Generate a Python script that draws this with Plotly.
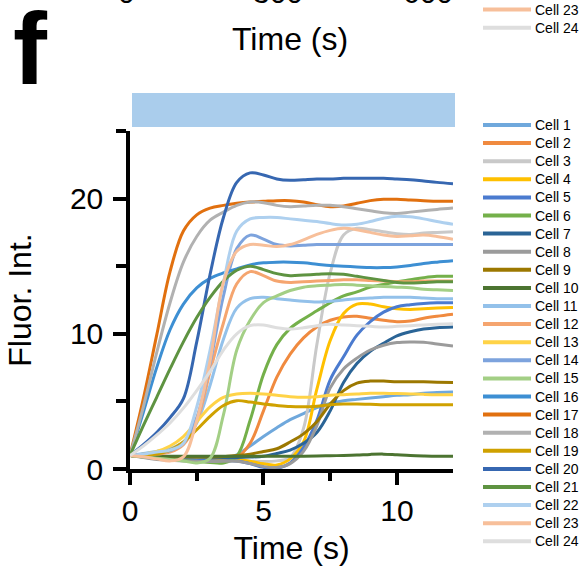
import plotly.graph_objects as go

# Sampling times (s), shared by every cell trace
TIME = [0, 0.5, 1, 1.5, 2, 2.5, 3, 3.5, 4, 4.5, 5, 5.5, 6, 6.5, 7, 7.5, 8,
        8.5, 9, 9.5, 10, 10.5, 11, 11.5, 12.1]

# Fluorescence intensity per cell
CELL_01 = [1.0, 0.95, 0.9, 0.85, 0.8, 0.78, 0.75, 0.8, 1.05, 1.7, 2.4, 3.05, 3.65, 4.1, 4.55, 4.85, 5.05, 5.15, 5.25, 5.35, 5.45, 5.5, 5.6, 5.65, 5.7]
CELL_02 = [1.0, 0.95, 0.9, 0.85, 0.8, 0.75, 0.7, 0.7, 0.85, 1.9, 4.3, 6.8, 8.5, 9.7, 10.5, 11.0, 11.25, 11.3, 11.15, 11.0, 10.9, 10.95, 11.15, 11.3, 11.45]
CELL_03 = [1.0, 0.9, 0.8, 0.7, 0.62, 0.58, 0.55, 0.57, 0.6, 0.58, 0.55, 0.6, 0.85, 3.0, 9.2, 14.5, 17.3, 17.8, 17.7, 17.55, 17.4, 17.35, 17.45, 17.5, 17.55]
CELL_04 = [1.0, 0.9, 0.85, 0.8, 0.75, 0.72, 0.7, 0.7, 0.7, 0.58, 0.38, 0.3, 0.75, 2.0, 5.9, 9.5, 11.5, 12.2, 12.2, 12.0, 11.85, 11.8, 11.85, 11.9, 11.95]
CELL_05 = [1.0, 0.9, 0.8, 0.75, 0.7, 0.65, 0.62, 0.6, 0.6, 0.4, 0.12, 0.05, 0.45, 1.6, 3.6, 6.6, 8.3, 9.9, 10.9, 11.6, 12.0, 12.15, 12.25, 12.3, 12.3]
CELL_06 = [1.0, 0.9, 0.85, 0.75, 0.65, 0.55, 0.48, 0.45, 0.95, 3.6, 7.0, 9.2, 10.4, 11.1, 11.7, 12.3, 12.8, 13.1, 13.45, 13.65, 13.85, 14.0, 14.15, 14.25, 14.25]
CELL_07 = [1.0, 0.95, 0.92, 0.9, 0.9, 0.88, 0.86, 0.85, 0.85, 0.88, 0.95, 1.15, 1.4, 1.9, 2.7, 4.3, 6.4, 7.8, 8.7, 9.3, 9.85, 10.15, 10.35, 10.45, 10.5]
CELL_08 = [1.0, 0.85, 0.7, 0.65, 0.6, 0.57, 0.55, 0.57, 0.58, 0.4, 0.18, 0.12, 0.4, 1.3, 3.2, 6.0, 7.4, 8.2, 8.8, 9.15, 9.35, 9.4, 9.38, 9.25, 9.1]
CELL_09 = [1.0, 0.95, 0.93, 0.9, 0.9, 0.9, 0.9, 0.92, 1.0, 1.1, 1.3, 1.5, 2.0, 2.6, 3.5, 4.8, 5.8, 6.35, 6.5, 6.5, 6.45, 6.45, 6.45, 6.42, 6.4]
CELL_10 = [1.0, 0.97, 0.95, 0.95, 0.95, 0.95, 0.95, 0.95, 0.95, 0.95, 0.95, 0.95, 0.95, 0.95, 0.96, 0.98, 1.0, 1.03, 1.08, 1.1, 1.05, 1.0, 0.97, 0.95, 0.95]
CELL_11 = [1.0, 1.15, 1.3, 1.5, 2.0, 3.4, 6.2, 9.6, 11.9, 12.6, 12.7, 12.6, 12.5, 12.4, 12.35, 12.4, 12.5, 12.6, 12.65, 12.7, 12.7, 12.7, 12.65, 12.6, 12.6]
CELL_12 = [1.0, 1.05, 1.1, 1.25, 1.8, 3.5, 7.2, 10.8, 13.7, 14.6, 14.3, 13.9, 13.8, 13.85, 13.9, 13.95, 14.0, 14.0, 13.95, 13.9, 13.85, 13.85, 13.9, 13.9, 13.9]
CELL_13 = [1.0, 1.1, 1.3, 1.7, 2.4, 3.5, 4.6, 5.3, 5.55, 5.6, 5.55, 5.45, 5.35, 5.3, 5.35, 5.45, 5.5, 5.55, 5.6, 5.6, 5.58, 5.55, 5.52, 5.5, 5.5]
CELL_14 = [1.0, 1.1, 1.2, 1.35, 1.9, 3.8, 7.8, 12.8, 16.3, 17.3, 17.0, 16.6, 16.5, 16.55, 16.6, 16.6, 16.6, 16.6, 16.6, 16.6, 16.6, 16.6, 16.6, 16.6, 16.6]
CELL_15 = [1.0, 0.9, 0.8, 0.7, 0.6, 0.45, 0.8, 4.0, 8.8, 11.0, 12.3, 12.8, 13.2, 13.45, 13.55, 13.6, 13.65, 13.6, 13.55, 13.5, 13.45, 13.4, 13.3, 13.25, 13.2]
CELL_16 = [1.0, 4.2, 7.5, 10.3, 12.2, 13.4, 14.1, 14.5, 14.8, 15.1, 15.25, 15.3, 15.3, 15.25, 15.15, 15.05, 15.0, 14.95, 14.9, 14.9, 14.95, 15.05, 15.2, 15.3, 15.4]
CELL_17 = [1.0, 5.2, 9.9, 14.6, 17.6, 18.8, 19.3, 19.5, 19.65, 19.75, 19.8, 19.85, 19.85, 19.75, 19.55, 19.4, 19.45, 19.65, 19.85, 19.95, 19.95, 19.9, 19.85, 19.8, 19.8]
CELL_18 = [1.0, 4.6, 8.6, 12.3, 15.3, 17.2, 18.4, 19.0, 19.5, 19.75, 19.7, 19.5, 19.4, 19.45, 19.5, 19.5, 19.4, 19.25, 19.1, 18.95, 18.9, 19.0, 19.1, 19.2, 19.3]
CELL_19 = [1.0, 1.02, 1.1, 1.4, 2.0, 2.9, 3.9, 4.7, 5.05, 4.95, 4.8, 4.7, 4.62, 4.6, 4.65, 4.75, 4.8, 4.8, 4.78, 4.75, 4.75, 4.75, 4.75, 4.75, 4.75]
CELL_20 = [1.0, 1.8, 2.7, 3.8, 5.2, 9.4, 14.4, 18.6, 21.2, 21.9, 21.75, 21.45, 21.35, 21.4, 21.45, 21.45, 21.5, 21.5, 21.5, 21.5, 21.45, 21.4, 21.3, 21.2, 21.1]
CELL_21 = [1.0, 3.2, 5.3, 7.4, 9.4, 11.2, 12.7, 13.9, 14.7, 15.0, 14.75, 14.45, 14.3, 14.35, 14.4, 14.45, 14.4, 14.25, 14.1, 13.95, 13.8, 13.75, 13.8, 13.85, 13.85]
CELL_22 = [1.0, 1.1, 1.25, 1.4, 1.9, 4.6, 8.8, 13.8, 17.6, 18.5, 18.6, 18.6, 18.5, 18.4, 18.3, 18.15, 18.05, 18.1, 18.3, 18.55, 18.7, 18.65, 18.5, 18.3, 18.1]
CELL_23 = [1.0, 0.9, 0.75, 0.6, 0.9, 3.6, 8.0, 13.8, 16.1, 16.6, 16.55, 16.45, 16.6, 16.95, 17.35, 17.65, 17.8, 17.7, 17.5, 17.3, 17.2, 17.25, 17.3, 17.2, 17.0]
CELL_24 = [1.0, 1.7, 2.5, 3.4, 4.5, 5.8, 7.2, 8.8, 10.0, 10.6, 10.65, 10.45, 10.35, 10.45, 10.6, 10.7, 10.65, 10.6, 10.55, 10.5, 10.55, 10.6, 10.65, 10.7, 10.75]

CELL_NAMES = ["Cell %d" % i for i in range(1, 25)]
CELL_COLORS = ["#6FA8DC", "#F08A3F", "#C9C9C9", "#FFC000", "#4B7BCF", "#74B04A",
               "#2A6496", "#9B9B9B", "#9C7800", "#4C7431", "#93C1EA", "#F5A56F",
               "#FFD347", "#7DA3DD", "#A3CF85", "#3D8FD3", "#E1700F", "#B1B1B1",
               "#CFA100", "#3667B1", "#5E9341", "#AED0EF", "#F7BF9A", "#DEDEDE"]
SERIES = [CELL_01, CELL_02, CELL_03, CELL_04, CELL_05, CELL_06, CELL_07, CELL_08,
          CELL_09, CELL_10, CELL_11, CELL_12, CELL_13, CELL_14, CELL_15, CELL_16,
          CELL_17, CELL_18, CELL_19, CELL_20, CELL_21, CELL_22, CELL_23, CELL_24]

FONT = "Arial, 'Liberation Sans', sans-serif"

# figure geometry (px)
W, H = 581, 575
ML, MR, MT, MB = 130, 128, 131, 106
PW, PH = W - ML - MR, H - MT - MB


def px_x(px):
    return (px - ML) / PW


def px_y(py):
    return (H - MB - py) / PH


fig = go.Figure()
for name, color, vals in zip(CELL_NAMES, CELL_COLORS, SERIES):
    fig.add_trace(go.Scatter(
        x=TIME, y=vals, name=name, mode="lines",
        line=dict(color=color, width=3, shape="spline", smoothing=1.0),
        showlegend=False,
    ))

shapes = []
annotations = []

# stimulus bar above the axes
shapes.append(dict(type="rect", xref="paper", yref="paper",
                   x0=px_x(132), x1=px_x(455), y0=px_y(127), y1=px_y(93),
                   fillcolor="#AACDEC", line=dict(width=0), layer="above"))

# legend: line sample + label per cell
LEG_TOP, LEG_STEP = 125.0, 18.1
LEG_FONT = dict(family=FONT, size=14, color="black")
for i, (name, color) in enumerate(zip(CELL_NAMES, CELL_COLORS)):
    yy = LEG_TOP + LEG_STEP * i
    shapes.append(dict(type="line", xref="paper", yref="paper",
                       x0=px_x(483), x1=px_x(531), y0=px_y(yy), y1=px_y(yy),
                       line=dict(color=color, width=4)))
    annotations.append(dict(text=name, xref="paper", yref="paper",
                            x=px_x(533), y=px_y(yy), xanchor="left", yanchor="middle",
                            showarrow=False, font=LEG_FONT))

# tail of the panel above: its last legend rows, tick labels and axis title
for j, idx in enumerate([22, 23]):
    yy = 9.6 + LEG_STEP * j
    shapes.append(dict(type="line", xref="paper", yref="paper",
                       x0=px_x(483), x1=px_x(531), y0=px_y(yy), y1=px_y(yy),
                       line=dict(color=CELL_COLORS[idx], width=4)))
    annotations.append(dict(text=CELL_NAMES[idx], xref="paper", yref="paper",
                            x=px_x(533), y=px_y(yy), xanchor="left", yanchor="middle",
                            showarrow=False, font=LEG_FONT))

for lab, cx in [("0", 126.5), ("300", 277.5), ("600", 427.5)]:
    annotations.append(dict(text=lab, xref="paper", yref="paper",
                            x=px_x(cx), y=px_y(11), xanchor="center", yanchor="bottom",
                            showarrow=False, font=dict(family=FONT, size=30, color="black")))
annotations.append(dict(text="Time (s)", xref="paper", yref="paper",
                        x=px_x(290), y=px_y(59), xanchor="center", yanchor="bottom",
                        showarrow=False, font=dict(family=FONT, size=32, color="black")))

# panel letter
annotations.append(dict(text="<b>f</b>", xref="paper", yref="paper",
                        x=px_x(11), y=px_y(108), xanchor="left", yanchor="bottom",
                        showarrow=False, font=dict(family=FONT, size=102, color="black")))

axis_common = dict(
    showline=True, linewidth=3.5, linecolor="black",
    ticks="outside", tickwidth=3.5, tickcolor="black",
    showgrid=False, zeroline=False,
)

fig.update_layout(
    width=W, height=H,
    margin=dict(l=ML, r=MR, t=MT, b=MB, pad=0),
    paper_bgcolor="white", plot_bgcolor="white",
    font=dict(family=FONT, color="black"),
    xaxis=dict(range=[0, 12.1], tickvals=[0, 5, 10], ticklen=12,
               minor=dict(dtick=2.5, ticks="outside", ticklen=8, tickwidth=3.5, tickcolor="black"),
               tickfont=dict(size=30),
               title=dict(text="Time (s)", font=dict(size=32), standoff=12),
               **axis_common),
    yaxis=dict(range=[0, 25], tickvals=[0, 10, 20], ticklen=13,
               minor=dict(dtick=5, ticks="outside", ticklen=10, tickwidth=3.5, tickcolor="black"),
               tickfont=dict(size=30), ticklabelstandoff=4,
               title=dict(text="Fluor. Int.", font=dict(size=32), standoff=30),
               **axis_common),
    shapes=shapes,
    annotations=annotations,
)

fig.write_html("out.html")
